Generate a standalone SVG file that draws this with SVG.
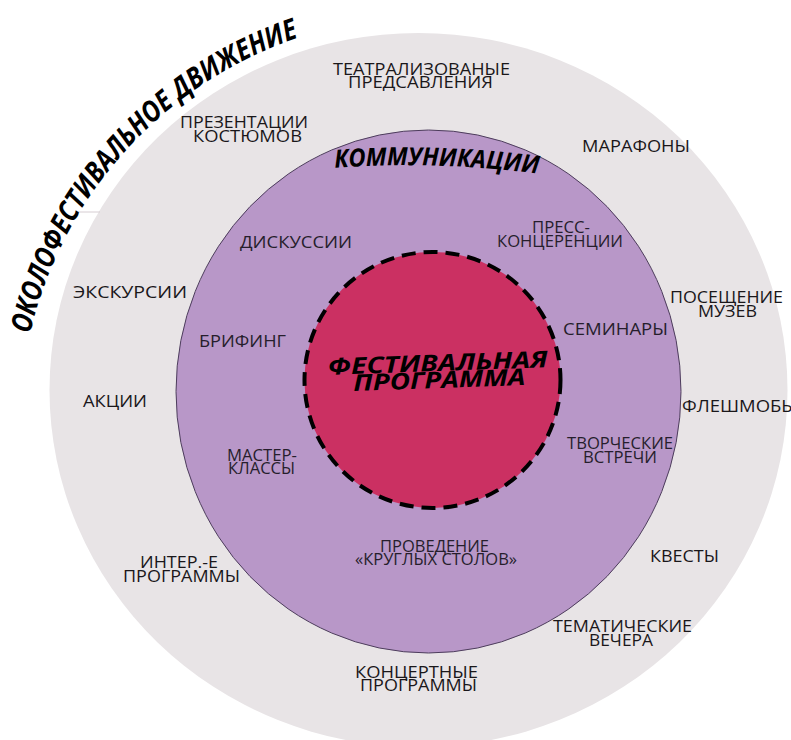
<svg xmlns="http://www.w3.org/2000/svg" width="791" height="740" viewBox="0 0 791 740">
<style>
.lbl{font-family:"Open Sans","Liberation Sans",sans-serif;font-size:17px;fill:#1a171a;text-anchor:middle}
.in{fill:#261e2c}
.ttl{font-family:"Open Sans","Liberation Sans",sans-serif;font-weight:bold;font-style:italic;fill:#000}
</style>
<defs>
<path id="arcTitle" d="M 30 334 A 410 410 0 0 1 303 36" fill="none"/>
<path id="arcComm" d="M 333 168 A 1000 1000 0 0 1 540 174" fill="none"/>
</defs>
<rect width="791" height="740" fill="#ffffff"/>
<g id="outer">
<ellipse cx="418.5" cy="390" rx="369" ry="357" fill="#e8e4e6"/>
<line x1="78" y1="212" x2="100" y2="212" stroke="#d6cdd2" stroke-width="1"/>
<text class="ttl" font-size="29" textLength="418" lengthAdjust="spacingAndGlyphs"><textPath href="#arcTitle">ОКОЛОФЕСТИВАЛЬНОЕ ДВИЖЕНИЕ</textPath></text>
</g>
<g id="communications">
<ellipse cx="428.5" cy="391.5" rx="252.5" ry="261.5" fill="#b897c8" stroke="#4d3d5c" stroke-width="1"/>
<text class="ttl" font-size="25" text-anchor="middle" textLength="204" lengthAdjust="spacingAndGlyphs"><textPath href="#arcComm" startOffset="50%">КОММУНИКАЦИИ</textPath></text>
</g>
<g id="festival">
<circle cx="432.5" cy="380" r="128" fill="#cb3062" stroke="#000" stroke-width="4" stroke-dasharray="14 8"/>
<g transform="rotate(-2 438 372)">
<text class="ttl" font-size="23" x="438" y="371" text-anchor="middle" textLength="220" lengthAdjust="spacingAndGlyphs">ФЕСТИВАЛЬНАЯ</text>
<text class="ttl" font-size="23" x="439" y="388" text-anchor="middle" textLength="172" lengthAdjust="spacingAndGlyphs">ПРОГРАММА</text>
</g>
</g>
<g id="n-teatr"><text class="lbl" x="421.5" y="75" textLength="177" lengthAdjust="spacingAndGlyphs">ТЕАТРАЛИЗОВАНЫЕ</text><text class="lbl" x="420.5" y="88" textLength="145" lengthAdjust="spacingAndGlyphs">ПРЕДСАВЛЕНИЯ</text></g>
<g id="n-prez"><text class="lbl" x="244" y="128" textLength="128" lengthAdjust="spacingAndGlyphs">ПРЕЗЕНТАЦИИ</text><text class="lbl" x="247.5" y="142" textLength="109" lengthAdjust="spacingAndGlyphs">КОСТЮМОВ</text></g>
<g id="n-marafon"><text class="lbl" x="636" y="152" textLength="108" lengthAdjust="spacingAndGlyphs">МАРАФОНЫ</text></g>
<g id="n-disk"><text class="lbl in" x="296" y="248" textLength="112" lengthAdjust="spacingAndGlyphs">ДИСКУССИИ</text></g>
<g id="n-press"><text class="lbl in" x="561" y="233" textLength="58" lengthAdjust="spacingAndGlyphs">ПРЕСС-</text><text class="lbl in" x="560" y="247" textLength="126" lengthAdjust="spacingAndGlyphs">КОНЦЕРЕНЦИИ</text></g>
<g id="n-ekskur"><text class="lbl" x="130" y="298" textLength="114" lengthAdjust="spacingAndGlyphs">ЭКСКУРСИИ</text></g>
<g id="n-muzei"><text class="lbl" x="726.5" y="303" textLength="113" lengthAdjust="spacingAndGlyphs">ПОСЕЩЕНИЕ</text><text class="lbl" x="727.5" y="317" textLength="59" lengthAdjust="spacingAndGlyphs">МУЗЕВ</text></g>
<g id="n-brif"><text class="lbl in" x="242.5" y="347" textLength="87" lengthAdjust="spacingAndGlyphs">БРИФИНГ</text></g>
<g id="n-semin"><text class="lbl in" x="615.5" y="335" textLength="105" lengthAdjust="spacingAndGlyphs">СЕМИНАРЫ</text></g>
<g id="n-akcii"><text class="lbl" x="115" y="407" textLength="64" lengthAdjust="spacingAndGlyphs">АКЦИИ</text></g>
<g id="n-flash"><text class="lbl" x="682" y="412" style="text-anchor:start" textLength="115" lengthAdjust="spacingAndGlyphs">ФЛЕШМОБЫ</text></g>
<g id="n-master"><text class="lbl in" x="262" y="461" textLength="70" lengthAdjust="spacingAndGlyphs">МАСТЕР-</text><text class="lbl in" x="261.5" y="474" textLength="67" lengthAdjust="spacingAndGlyphs">КЛАССЫ</text></g>
<g id="n-tvor"><text class="lbl in" x="620" y="449" textLength="106" lengthAdjust="spacingAndGlyphs">ТВОРЧЕСКИЕ</text><text class="lbl in" x="620" y="463" textLength="74" lengthAdjust="spacingAndGlyphs">ВСТРЕЧИ</text></g>
<g id="n-krug"><text class="lbl in" x="434.5" y="552" textLength="109" lengthAdjust="spacingAndGlyphs">ПРОВЕДЕНИЕ</text><text class="lbl in" x="436" y="565" textLength="162" lengthAdjust="spacingAndGlyphs">«КРУГЛЫХ СТОЛОВ»</text></g>
<g id="n-inter"><text class="lbl" x="179" y="568" textLength="78" lengthAdjust="spacingAndGlyphs">ИНТЕР.-Е</text><text class="lbl" x="181.5" y="582" textLength="117" lengthAdjust="spacingAndGlyphs">ПРОГРАММЫ</text></g>
<g id="n-kvest"><text class="lbl" x="684.5" y="562" textLength="69" lengthAdjust="spacingAndGlyphs">КВЕСТЫ</text></g>
<g id="n-temat"><text class="lbl" x="622.5" y="632" textLength="139" lengthAdjust="spacingAndGlyphs">ТЕМАТИЧЕСКИЕ</text><text class="lbl" x="621" y="646" textLength="64" lengthAdjust="spacingAndGlyphs">ВЕЧЕРА</text></g>
<g id="n-koncert"><text class="lbl" x="416.5" y="678" textLength="123" lengthAdjust="spacingAndGlyphs">КОНЦЕРТНЫЕ</text><text class="lbl" x="418.5" y="691" textLength="117" lengthAdjust="spacingAndGlyphs">ПРОГРАММЫ</text></g>
</svg>
